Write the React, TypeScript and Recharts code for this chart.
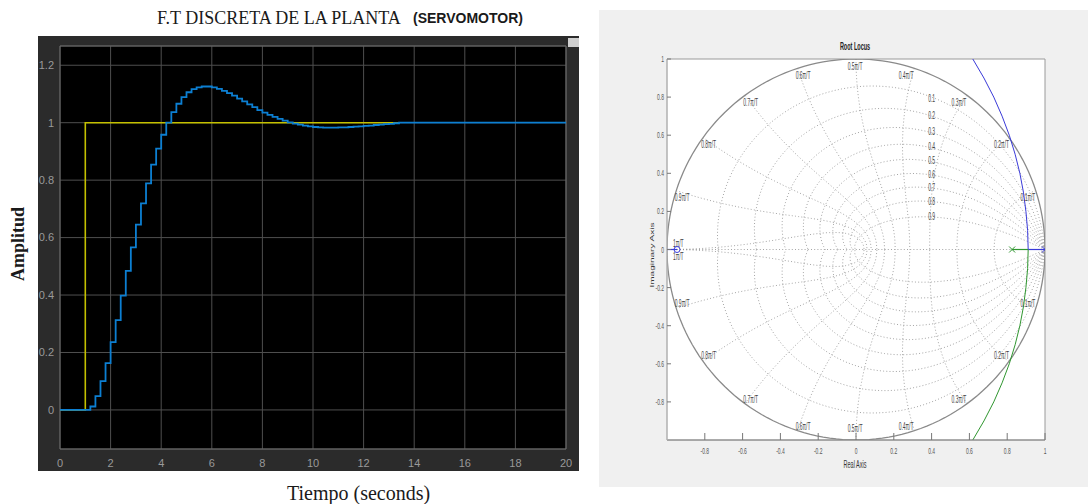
import React from 'react';
import { ComposedChart, LineChart, Line, Scatter, XAxis, YAxis, CartesianGrid, ReferenceArea } from 'recharts';

// ---- left: discrete step response (scope) ----
const timeTicks = [0, 2, 4, 6, 8, 10, 12, 14, 16, 18, 20];
const ampTicks = [0, 0.2, 0.4, 0.6, 0.8, 1, 1.2];

const inputTimes = [0, 1, 13.4];
const inputValues = [0, 1, 1];

const outputTimes = [
  0, 1.2, 1.4, 1.6, 1.8, 2, 2.2, 2.4, 2.6, 2.8, 3, 3.2, 3.4, 3.6, 3.8, 4,
  4.2, 4.4, 4.6, 4.8, 5, 5.2, 5.4, 5.6, 5.8, 6, 6.2, 6.4, 6.6, 6.8, 7,
  7.2, 7.4, 7.6, 7.8, 8, 8.2, 8.4, 8.6, 8.8, 9, 9.2, 9.4, 9.6, 9.8, 10,
  10.2, 10.4, 10.6, 10.8, 11, 11.2, 11.4, 11.6, 11.8, 12, 12.2, 12.4, 12.6, 12.8, 13,
  13.2, 13.4, 20,
];
const outputValues = [
  0, 0.012, 0.048, 0.1, 0.163, 0.236, 0.313, 0.398, 0.484, 0.566, 0.645, 0.719, 0.789, 0.854, 0.91, 0.958,
  1.0, 1.037, 1.066, 1.089, 1.106, 1.117, 1.123, 1.126, 1.126, 1.123, 1.118, 1.111, 1.103, 1.094, 1.084,
  1.074, 1.064, 1.054, 1.044, 1.035, 1.027, 1.02, 1.013, 1.007, 1.001, 0.997, 0.993, 0.99, 0.987, 0.985,
  0.984, 0.983, 0.983, 0.983, 0.984, 0.984, 0.985, 0.986, 0.987, 0.989, 0.99, 0.992, 0.993, 0.995, 0.996,
  0.998, 1.0, 1.0,
];

// ---- right: root locus ----
const realTicks = [-0.8, -0.6, -0.4, -0.2, 0, 0.2, 0.4, 0.6, 0.8, 1];
const imagTicks = [-0.8, -0.6, -0.4, -0.2, 0, 0.2, 0.4, 0.6, 0.8, 1];
const dampingRatios = [0.1, 0.2, 0.3, 0.4, 0.5, 0.6, 0.7, 0.8, 0.9];
const natFreqs = [0.1, 0.2, 0.3, 0.4, 0.5, 0.6, 0.7, 0.8, 0.9, 1];

const freqLabels = ['0.1π/T', '0.2π/T', '0.3π/T', '0.4π/T', '0.5π/T', '0.6π/T', '0.7π/T', '0.8π/T', '0.9π/T'];
const freqLabelRe = [0.91, 0.77, 0.545, 0.265, -0.005, -0.28, -0.557, -0.78, -0.92];
const freqLabelImUp = [0.27, 0.55, 0.77, 0.91, 0.96, 0.91, 0.77, 0.55, 0.27];
const freqLabelImDown = [-0.285, -0.56, -0.79, -0.93, -0.94, -0.93, -0.79, -0.56, -0.285];
const piLabelRe = [-0.94, -0.94];
const piLabelIm = [0.03, -0.04];

const dampLabelRe = 0.4;
const dampLabelIm = [0.79, 0.7, 0.617, 0.54, 0.465, 0.39, 0.325, 0.25, 0.17];

// complex branches
const branchRe = [0.911, 0.908, 0.899, 0.886, 0.867, 0.842, 0.811, 0.773, 0.729, 0.677, 0.618];
const branchIm = [0, 0.1, 0.2, 0.3, 0.4, 0.5, 0.6, 0.7, 0.8, 0.9, 1.0];
const breakaway = 0.911;
const poles = [1, 0.826];
const zero = -0.947;

const BLUE = '#3a3ad8';
const GREEN = '#2f962f';

const inputData = inputTimes.map((t, i) => ({ t, v: inputValues[i] }));
const outputData = outputTimes.map((t, i) => ({ t, v: outputValues[i] }));

// zgrid curves (grid, like polar grid lines)
const N = 70;
const dampCurve = (z: number, sign: number) => {
  const pts = [];
  for (let i = 0; i <= N; i++) {
    const th = (Math.PI * i) / N;
    const r = Math.exp((-z * th) / Math.sqrt(1 - z * z));
    pts.push({ x: r * Math.cos(th), y: sign * r * Math.sin(th) });
  }
  return pts;
};
const freqCurve = (k: number, sign: number) => {
  const wn = k * Math.PI;
  const pts = [];
  for (let i = 0; i <= N; i++) {
    const z = i / N;
    const r = Math.exp(-z * wn);
    const th = wn * Math.sqrt(1 - z * z);
    pts.push({ x: r * Math.cos(th), y: sign * r * Math.sin(th) });
  }
  return pts;
};
const unitCircle = (() => {
  const pts = [];
  for (let i = 0; i <= 180; i++) {
    const th = (2 * Math.PI * i) / 180;
    pts.push({ x: Math.cos(th), y: Math.sin(th) });
  }
  return pts;
})();

const upperBranch = branchRe.map((x, i) => ({ x, y: branchIm[i] }));
const lowerBranch = branchRe.map((x, i) => ({ x, y: -branchIm[i] }));

const textLabels = [
  ...freqLabels.map((label, i) => ({ x: freqLabelRe[i], y: freqLabelImUp[i], label })),
  ...freqLabels.map((label, i) => ({ x: freqLabelRe[i], y: freqLabelImDown[i], label })),
  ...piLabelRe.map((x, i) => ({ x, y: piLabelIm[i], label: '1π/T' })),
  ...dampingRatios.map((d, i) => ({ x: dampLabelRe, y: dampLabelIm[i], label: String(d) })),
];

const SqText = ({ x, y, text, size = 9, anchor = 'middle', fill = '#555', sx = 0.55, bold = false }: any) => (
  <text
    transform={`translate(${x} ${y}) scale(${sx} 1)`}
    textAnchor={anchor}
    dominantBaseline="central"
    fontSize={size}
    fontWeight={bold ? 'bold' : 'normal'}
    fontFamily="'Liberation Sans', Arial, sans-serif"
    fill={fill}
  >
    {text}
  </text>
);

const fmt = (v: number) => String(Math.round(v * 10) / 10);

const BottomTick = ({ x, y, payload }: any) => (
  <g>
    <line x1={x} y1={y} x2={x} y2={y - 7} stroke="#777" />
    <SqText x={x} y={y + 11} text={fmt(payload.value)} />
  </g>
);
const TopTick = ({ x, y }: any) => <line x1={x} y1={y} x2={x} y2={y + 7} stroke="#777" />;
const LeftTick = ({ x, y, payload }: any) => (
  <g>
    <line x1={x} y1={y} x2={x + 4} y2={y} stroke="#777" />
    <SqText x={x - 3} y={y} text={fmt(payload.value)} anchor="end" />
  </g>
);
const RightTick = ({ x, y }: any) => <line x1={x} y1={y} x2={x - 4} y2={y} stroke="#777" />;

const LabelShape = (p: any) => <SqText x={p.cx} y={p.cy} text={p.payload.label} fill="#444" size={10} sx={0.5} />;
const PoleShape = (color: string) => (p: any) => (
  <g stroke={color} strokeWidth={1}>
    <line x1={p.cx - 3} y1={p.cy - 3} x2={p.cx + 3} y2={p.cy + 3} />
    <line x1={p.cx - 3} y1={p.cy + 3} x2={p.cx + 3} y2={p.cy - 3} />
  </g>
);
const ZeroShape = (p: any) => <circle cx={p.cx} cy={p.cy} r={3} fill="none" stroke={BLUE} />;

const dotted = { stroke: '#8e8e8e', strokeWidth: 0.8, strokeDasharray: '1 2.2' };

const App: React.FC = () => {
  return (
    <div style={{ position: 'fixed', left: 0, top: 0, width: 1088, height: 504, background: '#fff', overflow: 'hidden' }}>
      {/* scope frame */}
      <div style={{ position: 'absolute', left: 38, top: 36, width: 541, height: 435, background: '#2b2b2b' }}>
        <div style={{ position: 'absolute', left: 530, top: 2, width: 11, height: 9, background: '#cfcfcf' }} />
        <LineChart width={541} height={435} margin={{ top: 10, right: 13, left: 0, bottom: 0 }}>
          <CartesianGrid fill="#000" stroke="#4f4f4f" />
          <XAxis
            dataKey="t"
            type="number"
            domain={[0, 20]}
            ticks={timeTicks}
            height={22}
            axisLine={false}
            tickLine={false}
            tickMargin={4}
            tick={{ fill: '#9a9a9a', fontSize: 11, fontFamily: "'Liberation Sans', Arial" }}
          />
          <YAxis
            type="number"
            domain={[-0.136, 1.267]}
            ticks={ampTicks}
            width={22}
            allowDataOverflow
            axisLine={false}
            tickLine={false}
            tickMargin={0}
            tick={{ fill: '#9a9a9a', fontSize: 11, fontFamily: "'Liberation Sans', Arial" }}
          />
          <ReferenceArea x1={0} x2={20} y1={-0.136} y2={1.267} fill="none" stroke="#6a6a6a" ifOverflow="visible" />
          <Line data={inputData} dataKey="v" type="stepAfter" stroke="#c4c000" strokeWidth={1.6} dot={false} isAnimationActive={false} />
          <Line data={outputData} dataKey="v" type="stepAfter" stroke="#0c7fd2" strokeWidth={1.8} dot={false} isAnimationActive={false} />
        </LineChart>
      </div>

      {/* root locus panel */}
      <div style={{ position: 'absolute', left: 599, top: 10, width: 489, height: 477, background: '#f0f0f0' }}>
        <ComposedChart width={489} height={477} margin={{ top: 49, right: 43, left: 0, bottom: 0 }}>
          <CartesianGrid fill="#fff" horizontal={false} vertical={false} />
          <XAxis dataKey="x" type="number" domain={[-1, 1]} ticks={realTicks} height={47} allowDataOverflow
            axisLine={{ stroke: '#888' }} tickLine={false} tickSize={0} tickMargin={0} tick={<BottomTick />} />
          <XAxis xAxisId="top" orientation="top" type="number" domain={[-1, 1]} ticks={realTicks} height={0} allowDataOverflow
            axisLine={{ stroke: '#888' }} tickLine={false} tickSize={0} tickMargin={0} tick={<TopTick />} />
          <YAxis type="number" domain={[-1, 1]} ticks={imagTicks} width={68} allowDataOverflow
            axisLine={{ stroke: '#bbb' }} tickLine={false} tickSize={0} tickMargin={0} tick={<LeftTick />} />
          <YAxis yAxisId="right" orientation="right" type="number" domain={[-1, 1]} ticks={imagTicks} width={0} allowDataOverflow
            axisLine={{ stroke: '#bbb' }} tickLine={false} tickSize={0} tickMargin={0} tick={<RightTick />} />
          <ReferenceArea x1={-1} x2={1} y1={-1} y2={1} fill="none" stroke="#9a9a9a" ifOverflow="visible" />

          {dampingRatios.map((z) => (
            <Line key={`du${z}`} data={dampCurve(z, 1)} dataKey="y" type="linear" {...dotted} dot={false} isAnimationActive={false} />
          ))}
          {dampingRatios.map((z) => (
            <Line key={`dd${z}`} data={dampCurve(z, -1)} dataKey="y" type="linear" {...dotted} dot={false} isAnimationActive={false} />
          ))}
          {natFreqs.map((k) => (
            <Line key={`fu${k}`} data={freqCurve(k, 1)} dataKey="y" type="linear" {...dotted} dot={false} isAnimationActive={false} />
          ))}
          {natFreqs.map((k) => (
            <Line key={`fd${k}`} data={freqCurve(k, -1)} dataKey="y" type="linear" {...dotted} dot={false} isAnimationActive={false} />
          ))}
          <Line data={[{ x: -1, y: 0 }, { x: 1, y: 0 }]} dataKey="y" type="linear" {...dotted} dot={false} isAnimationActive={false} />
          <Line data={unitCircle} dataKey="y" type="linear" stroke="#8a8a8a" strokeWidth={1.3} dot={false} isAnimationActive={false} />

          <Line data={upperBranch} dataKey="y" type="linear" stroke={BLUE} strokeWidth={1} dot={false} isAnimationActive={false} />
          <Line data={lowerBranch} dataKey="y" type="linear" stroke={GREEN} strokeWidth={1} dot={false} isAnimationActive={false} />
          <Line data={[{ x: breakaway, y: 0 }, { x: poles[0], y: 0 }]} dataKey="y" type="linear" stroke={BLUE} strokeWidth={1.2} dot={false} isAnimationActive={false} />
          <Line data={[{ x: poles[1], y: 0 }, { x: breakaway, y: 0 }]} dataKey="y" type="linear" stroke={GREEN} strokeWidth={1.2} dot={false} isAnimationActive={false} />
          <Line data={[{ x: -1, y: 0 }, { x: zero, y: 0 }]} dataKey="y" type="linear" stroke={BLUE} strokeWidth={1.2} dot={false} isAnimationActive={false} />

          <Scatter data={textLabels} dataKey="y" shape={LabelShape} isAnimationActive={false} />
          <Scatter data={[{ x: poles[0], y: 0 }]} dataKey="y" shape={PoleShape(BLUE)} isAnimationActive={false} />
          <Scatter data={[{ x: poles[1], y: 0 }]} dataKey="y" shape={PoleShape(GREEN)} isAnimationActive={false} />
          <Scatter data={[{ x: zero, y: 0 }]} dataKey="y" shape={ZeroShape} isAnimationActive={false} />
        </ComposedChart>
      </div>

      {/* free text */}
      <svg width={1088} height={504} style={{ position: 'absolute', left: 0, top: 0, pointerEvents: 'none' }}>
        <text x={157} y={24} fontSize={18} fontFamily="'Liberation Serif', 'DejaVu Serif', serif" fill="#1a1a1a">
          F.T DISCRETA DE LA PLANTA
        </text>
        <text x={413} y={23} fontSize={14} fontWeight="bold" fontFamily="'Liberation Sans', Arial, sans-serif" fill="#1a1a1a">
          (SERVOMOTOR)
        </text>
        <text x={0} y={0} transform="translate(24 244) rotate(-90)" textAnchor="middle" fontSize={18} fontWeight="bold"
          fontFamily="'Liberation Serif', 'DejaVu Serif', serif" fill="#1a1a1a">
          Amplitud
        </text>
        <text x={287} y={500} fontSize={20} fontFamily="'Liberation Serif', 'DejaVu Serif', serif" fill="#1a1a1a">
          Tiempo (seconds)
        </text>
        <SqText x={855} y={47} text="Root Locus" size={10} bold fill="#222" />
        <SqText x={855} y={465} text="Real Axis" size={10} fill="#333" />
        <g transform="translate(652 255) rotate(-90)">
          <text transform="scale(1 0.55)" textAnchor="middle" dominantBaseline="central" fontSize={10}
            fontFamily="'Liberation Sans', Arial, sans-serif" fill="#333">
            Imaginary Axis
          </text>
        </g>
      </svg>
    </div>
  );
};

export default App;
